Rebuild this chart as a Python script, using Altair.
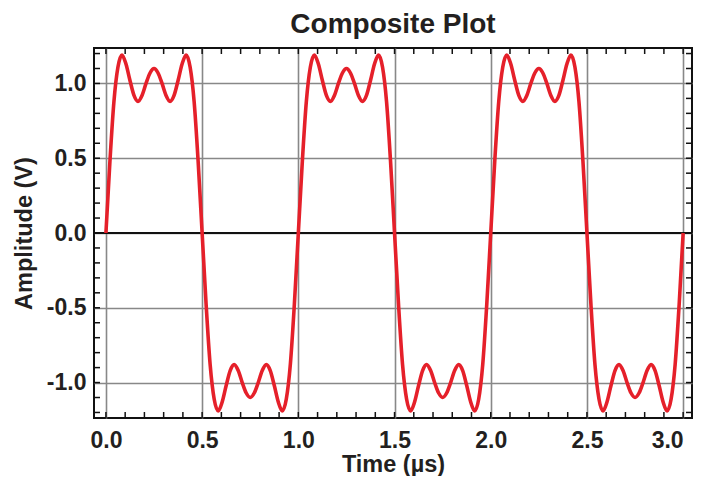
import altair as alt
import pandas as pd

# Sample grid (µs), 48 samples per period, 0 .. 3 µs
time_us = [round(i / 48, 5) for i in range(145)]

# Amplitude (V) at each sample
amplitude_v = [
    0.00, 0.48, 0.88, 1.11, 1.19, 1.13, 1.02, 0.92, 0.88, 0.92, 1.00, 1.07,
    1.10, 1.07, 1.00, 0.92, 0.88, 0.92, 1.02, 1.13, 1.19, 1.11, 0.88, 0.48,
    0.00, -0.48, -0.88, -1.11, -1.19, -1.13, -1.02, -0.92, -0.88, -0.92, -1.00, -1.07,
    -1.10, -1.07, -1.00, -0.92, -0.88, -0.92, -1.02, -1.13, -1.19, -1.11, -0.88, -0.48,
    0.00, 0.48, 0.88, 1.11, 1.19, 1.13, 1.02, 0.92, 0.88, 0.92, 1.00, 1.07,
    1.10, 1.07, 1.00, 0.92, 0.88, 0.92, 1.02, 1.13, 1.19, 1.11, 0.88, 0.48,
    0.00, -0.48, -0.88, -1.11, -1.19, -1.13, -1.02, -0.92, -0.88, -0.92, -1.00, -1.07,
    -1.10, -1.07, -1.00, -0.92, -0.88, -0.92, -1.02, -1.13, -1.19, -1.11, -0.88, -0.48,
    0.00, 0.48, 0.88, 1.11, 1.19, 1.13, 1.02, 0.92, 0.88, 0.92, 1.00, 1.07,
    1.10, 1.07, 1.00, 0.92, 0.88, 0.92, 1.02, 1.13, 1.19, 1.11, 0.88, 0.48,
    0.00, -0.48, -0.88, -1.11, -1.19, -1.13, -1.02, -0.92, -0.88, -0.92, -1.00, -1.07,
    -1.10, -1.07, -1.00, -0.92, -0.88, -0.92, -1.02, -1.13, -1.19, -1.11, -0.88, -0.48,
    0.00,
]

x_major = [0.0, 0.5, 1.0, 1.5, 2.0, 2.5, 3.0]
y_major = [-1.0, -0.5, 0.0, 0.5, 1.0]
x_minor = [round(i * 0.1, 1) for i in range(31)]
y_minor = [round(-1.2 + i * 0.1, 1) for i in range(25)]

W, H = 598, 370
FONT = "Liberation Sans"
TXT = "#231f20"

xscale = alt.Scale(domain=[-0.062, 3.046], nice=False, zero=False)
yscale = alt.Scale(domain=[-1.237, 1.237], nice=False, zero=False)

fix_minus = "replace(datum.label, '\u2212', '-')"

x_axis = alt.Axis(
    values=x_major, format=".1f", labelExpr=fix_minus,
    labelFont=FONT, labelFontSize=23, labelFontWeight="bold", labelColor=TXT,
    labelPadding=11, labelFlush=10, labelOverlap=False, labelBound=False,
    tickSize=0, ticks=False, domain=False,
    grid=True, gridColor="#888888", gridWidth=1.6,
    title="Time (µs)", titleFont=FONT, titleFontSize=23.5, titleFontWeight="bold",
    titleColor=TXT, titleX=W / 2, titleY=53, titleBaseline="alphabetic",
    titleAnchor="middle", titleAlign="center",
)
y_axis = alt.Axis(
    values=y_major, format=".1f", labelExpr=fix_minus,
    labelFont=FONT, labelFontSize=23, labelFontWeight="bold", labelColor=TXT,
    labelPadding=8, labelOverlap=False, labelFlush=False,
    tickSize=0, ticks=False, domain=False,
    grid=True, gridColor="#888888", gridWidth=1.6,
    title="Amplitude (V)", titleFont=FONT, titleFontSize=23.5, titleFontWeight="bold",
    titleColor=TXT, titleX=-63, titleY=H / 2, titleAngle=270,
    titleBaseline="alphabetic", titleAlign="center",
)

df = pd.DataFrame({"t": time_us, "v": amplitude_v})

line = alt.Chart(df).mark_line(
    color="#e5202a", strokeWidth=3.6, interpolate="monotone"
).encode(
    x=alt.X("t:Q", scale=xscale, axis=x_axis),
    y=alt.Y("v:Q", scale=yscale, axis=y_axis),
)

zero = alt.Chart(pd.DataFrame({"v": [0.0]})).mark_rule(
    color="#111111", strokeWidth=2
).encode(y=alt.Y("v:Q", scale=yscale, axis=y_axis))

xt = pd.DataFrame({"t": x_minor})
yt = pd.DataFrame({"v": y_minor})

tick_style = dict(color="#111111", strokeWidth=1.5)
top_ticks = alt.Chart(xt).mark_rule(**tick_style).encode(
    x=alt.X("t:Q", scale=xscale, axis=x_axis), y=alt.value(0), y2=alt.value(6))
bottom_ticks = alt.Chart(xt).mark_rule(**tick_style).encode(
    x=alt.X("t:Q", scale=xscale, axis=x_axis), y=alt.value(H), y2=alt.value(H - 6))
left_ticks = alt.Chart(yt).mark_rule(**tick_style).encode(
    y=alt.Y("v:Q", scale=yscale, axis=y_axis), x=alt.value(0), x2=alt.value(6))
right_ticks = alt.Chart(yt).mark_rule(**tick_style).encode(
    y=alt.Y("v:Q", scale=yscale, axis=y_axis), x=alt.value(W), x2=alt.value(W - 6))

chart = alt.layer(
    zero, line, top_ticks, bottom_ticks, left_ticks, right_ticks
).properties(
    width=W, height=H, background="white",
    title=alt.TitleParams(
        "Composite Plot", font=FONT, fontSize=28, fontWeight="bold", color=TXT,
        anchor="middle", offset=8,
    ),
    autosize=alt.AutoSizeParams(type="none"),
    padding={"left": 86, "top": 40, "right": 1, "bottom": 58},
).configure_view(
    stroke="#111111", strokeWidth=2
)

chart.save("out.html", embed_options={"renderer": "svg", "actions": False})
